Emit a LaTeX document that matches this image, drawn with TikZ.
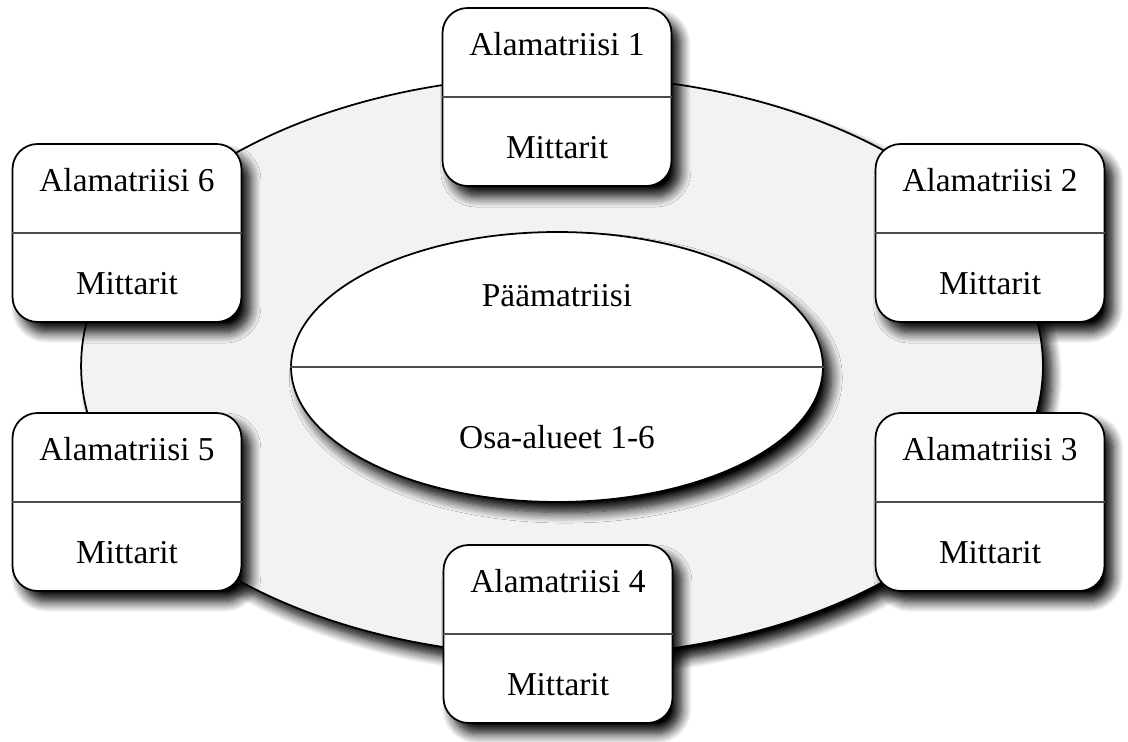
\documentclass[tikz,border=0pt]{standalone}
\usepackage{fontspec}
\setmainfont{Liberation Serif}
\usetikzlibrary{shapes.geometric,calc,shadows.blur}

\begin{document}
\begin{tikzpicture}[
  x=0.02cm, y=-0.02cm,
  shade/.style={blur shadow={shadow xshift=5pt, shadow yshift=-6pt, shadow blur radius=6pt, shadow blur steps=10, shadow opacity=100}},
  sub/.style={rectangle, draw, line width=1pt, rounded corners=0.5cm, fill=white, minimum width=4.58cm, minimum height=3.56cm, inner sep=0pt, shade},
  ring/.style={ellipse, draw, line width=1pt, fill=gray!10, minimum width=19.24cm, minimum height=11.6cm, inner sep=0pt, shade},
  core/.style={ellipse, draw, line width=1pt, fill=white, minimum width=10.64cm, minimum height=5.4cm, inner sep=0pt, shade},
  divider/.style={draw=black!70, line width=1.2pt},
  txt/.style={font=\fontsize{19}{22}\selectfont, inner sep=0pt}
]
\useasboundingbox (0,0) rectangle (1128,742);

% background ring and main matrix
\node[ring] (ring) at (562,366) {};
\node[core] (main) at (557,367) {};
\draw[divider] (main.west) -- (main.east);
\node[txt] (mainname) at ($(main)+(0,-71)$) {Päämatriisi};
\node[txt] (mainpart) at ($(main)+(0,70)$) {Osa-alueet 1-6};

% sub matrices
\node[sub] (am1) at (557,97) {};
\node[sub] (am2) at (990,233) {};
\node[sub] (am3) at (990,502) {};
\node[sub] (am4) at (558,634) {};
\node[sub] (am5) at (127,502) {};
\node[sub] (am6) at (127,233) {};

% dividers
\draw[divider] (am1.west) -- (am1.east);
\draw[divider] (am2.west) -- (am2.east);
\draw[divider] (am3.west) -- (am3.east);
\draw[divider] (am4.west) -- (am4.east);
\draw[divider] (am5.west) -- (am5.east);
\draw[divider] (am6.west) -- (am6.east);

% texts
\node[txt] (am1n) at ($(am1)+(0,-53)$) {Alamatriisi 1};
\node[txt] (am1m) at ($(am1)+(0,51)$) {Mittarit};
\node[txt] (am2n) at ($(am2)+(0,-53)$) {Alamatriisi 2};
\node[txt] (am2m) at ($(am2)+(0,51)$) {Mittarit};
\node[txt] (am3n) at ($(am3)+(0,-53)$) {Alamatriisi 3};
\node[txt] (am3m) at ($(am3)+(0,51)$) {Mittarit};
\node[txt] (am4n) at ($(am4)+(0,-53)$) {Alamatriisi 4};
\node[txt] (am4m) at ($(am4)+(0,51)$) {Mittarit};
\node[txt] (am5n) at ($(am5)+(0,-53)$) {Alamatriisi 5};
\node[txt] (am5m) at ($(am5)+(0,51)$) {Mittarit};
\node[txt] (am6n) at ($(am6)+(0,-53)$) {Alamatriisi 6};
\node[txt] (am6m) at ($(am6)+(0,51)$) {Mittarit};

\end{tikzpicture}
\end{document}
